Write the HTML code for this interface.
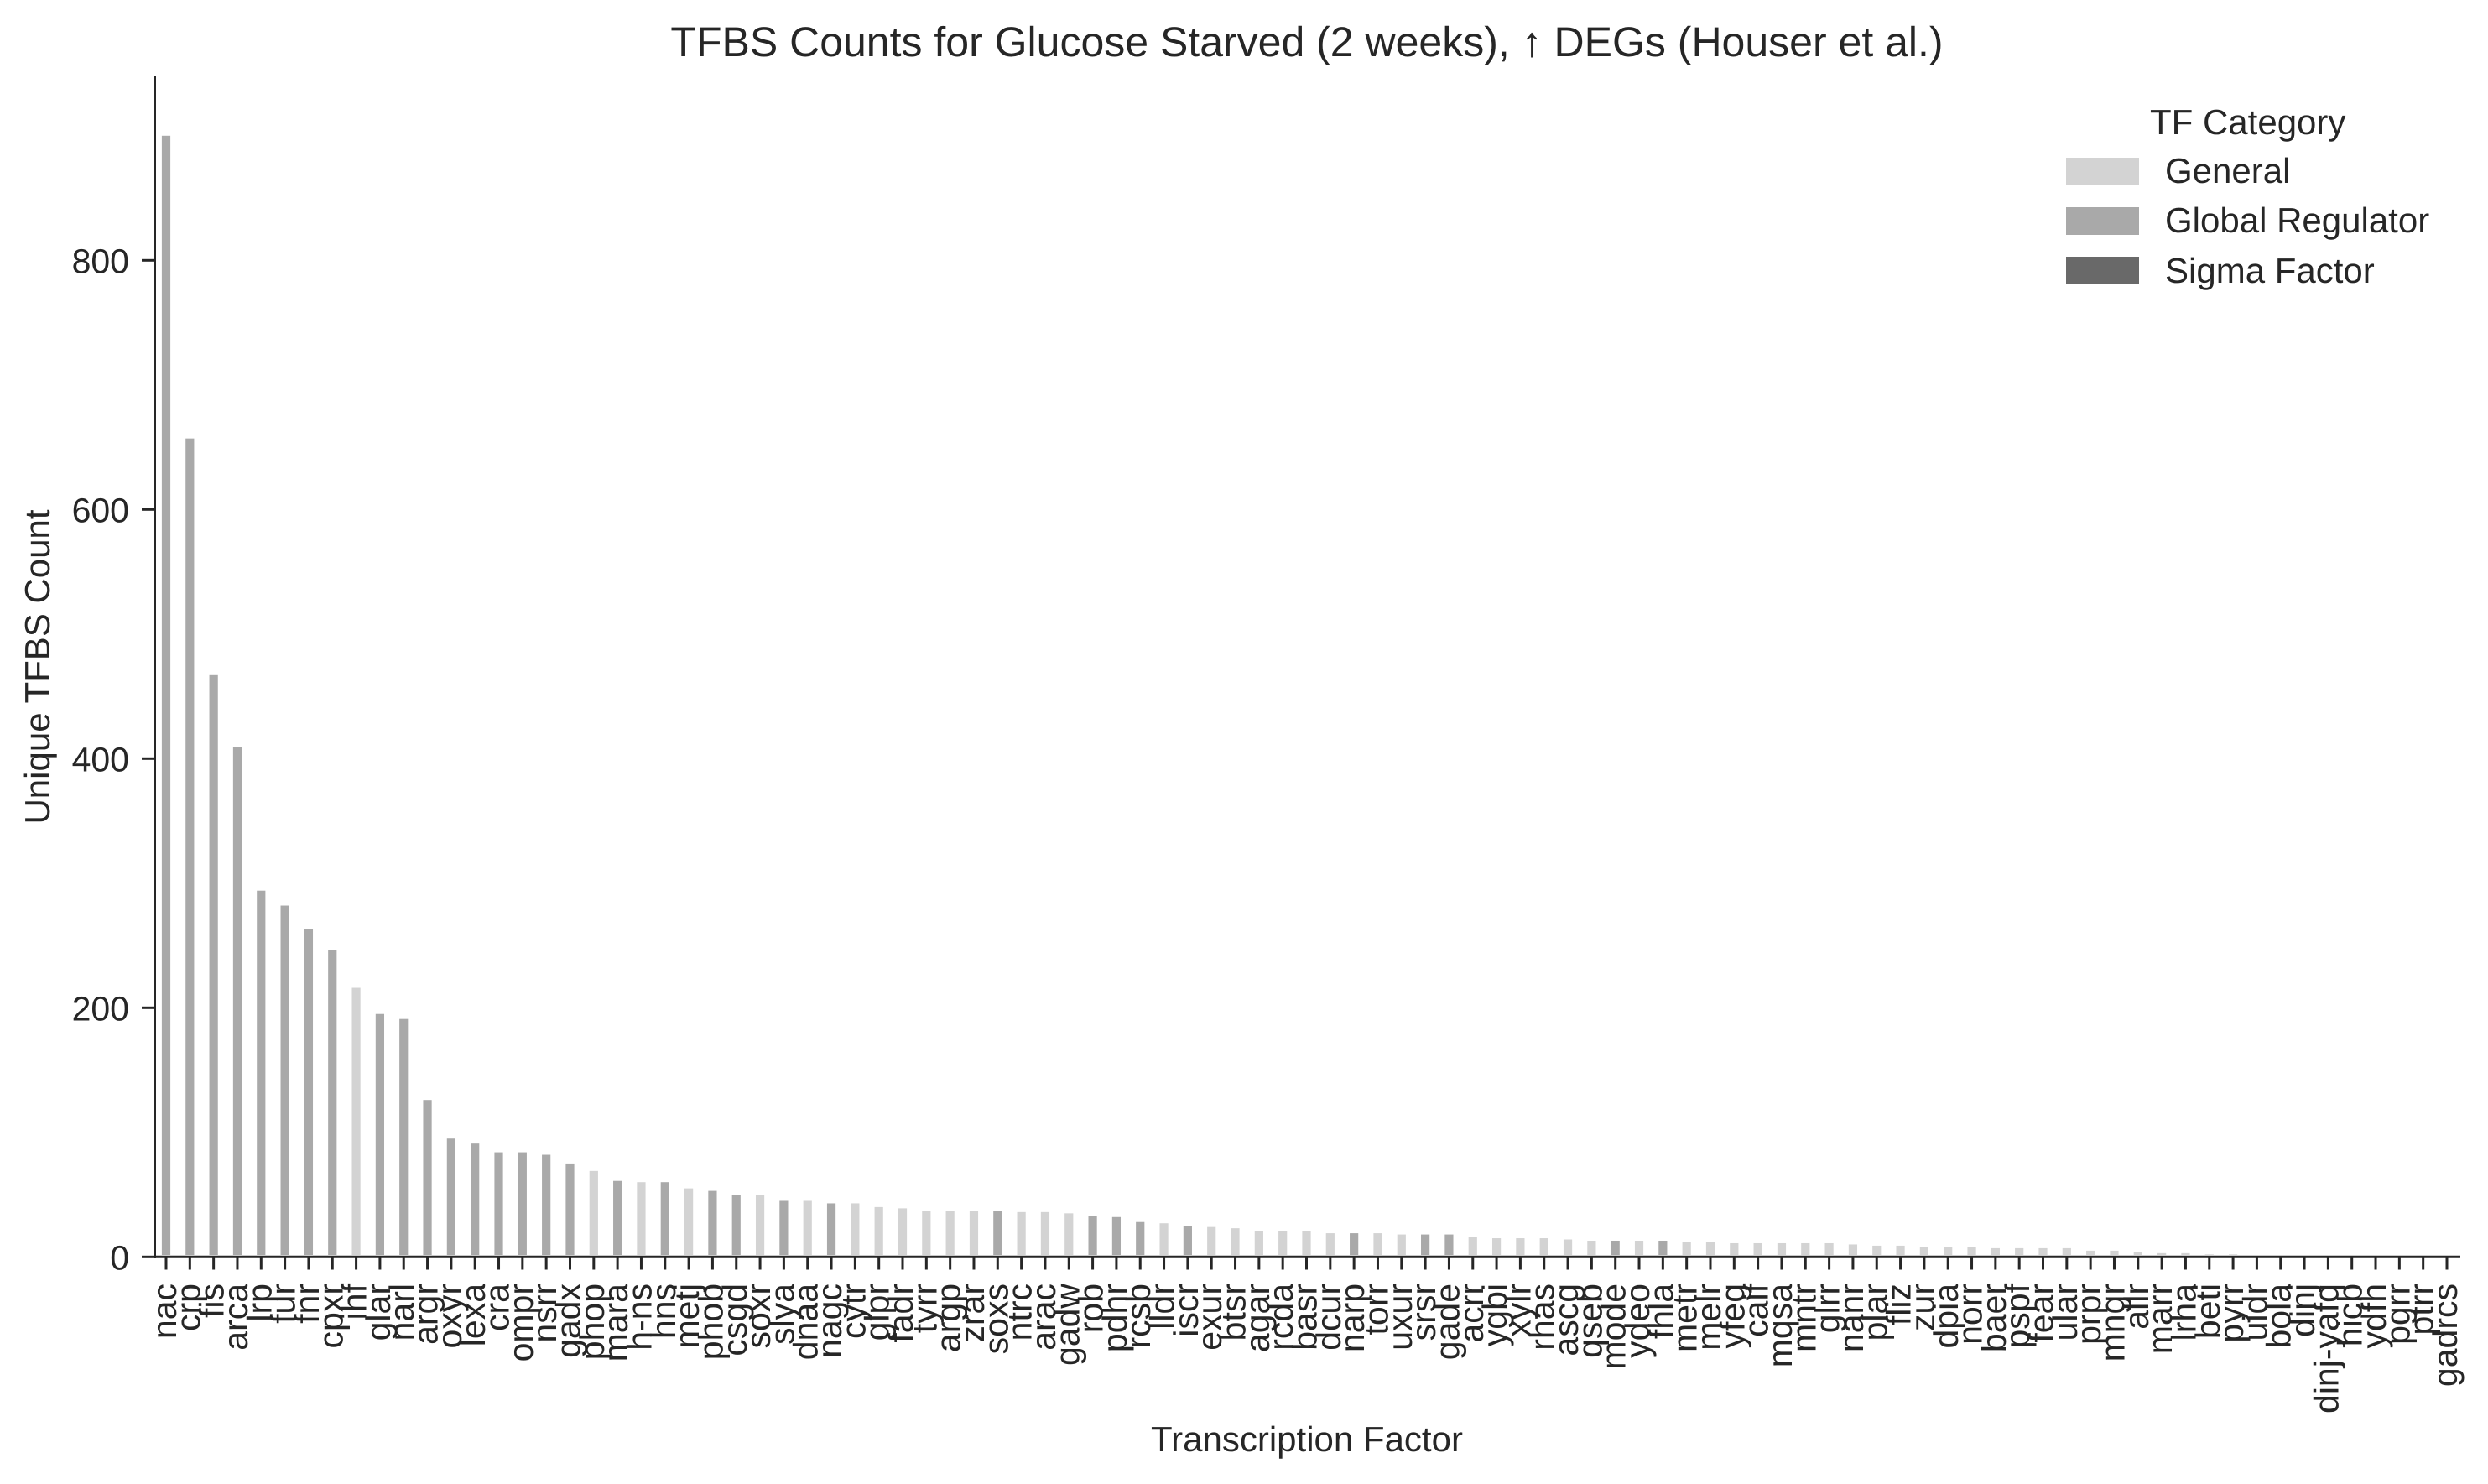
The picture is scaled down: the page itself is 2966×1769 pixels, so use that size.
<!DOCTYPE html>
<html lang="en">
<head>
<meta charset="utf-8">
<title>TFBS Counts for Glucose Starved (2 weeks)</title>
<style>
  html, body { margin: 0; padding: 0; background: #ffffff; }
  svg { display: block; text-rendering: geometricPrecision; }
  text { font-family: "Liberation Sans", "DejaVu Sans", sans-serif; fill: #262626; }
</style>
</head>
<body>
<svg id="chart" xmlns="http://www.w3.org/2000/svg" width="2966" height="1769" viewBox="0 0 2966 1769">
  <rect x="0" y="0" width="2966" height="1769" fill="#ffffff"/>
  <text x="1558" y="67" font-size="50" text-anchor="middle">TFBS Counts for Glucose Starved (2 weeks), ↑ DEGs (Houser et al.)</text>
  <g id="bars"></g>
  <line x1="184.5" y1="91" x2="184.5" y2="1500" stroke="#262626" stroke-width="3"/>
  <line x1="183" y1="1498.3" x2="2933" y2="1498.3" stroke="#262626" stroke-width="3"/>
  <g id="y-axis"></g>
  <g id="x-axis"></g>
  <text transform="translate(59,795) rotate(-90)" font-size="42" text-anchor="middle">Unique TFBS Count</text>
  <text x="1558" y="1730" font-size="42" text-anchor="middle">Transcription Factor</text>
  <g>
    <text x="2563" y="160" font-size="42">TF Category</text>
    <g>
      <rect x="2463" y="188" width="87" height="33" fill="#d3d3d3"/>
      <text x="2581" y="218" font-size="42">General</text>
    </g>
    <g>
      <rect x="2463" y="247" width="87" height="33" fill="#a9a9a9"/>
      <text x="2581" y="277" font-size="42">Global Regulator</text>
    </g>
    <g>
      <rect x="2463" y="306" width="87" height="33" fill="#696969"/>
      <text x="2581" y="337" font-size="42">Sigma Factor</text>
    </g>
  </g>
</svg>
<script>
const categories = ["nac","crp","fis","arca","lrp","fur","fnr","cpxr","ihf","glar","narl","argr","oxyr","lexa","cra","ompr","nsrr","gadx","phop","mara","h-ns","hns","metj","phob","csgd","soxr","slya","dnaa","nagc","cytr","glpr","fadr","tyrr","argp","zrar","soxs","ntrc","arac","gadw","rob","pdhr","rcsb","lldr","iscr","exur","btsr","agar","rcda","basr","dcur","narp","torr","uxur","srsr","gade","acrr","ygbi","xylr","rhas","ascg","qseb","mode","ydeo","fhla","metr","melr","yfeg","caif","mqsa","mntr","glrr","nanr","plar","fliz","zur","dpia","norr","baer","pspf","fear","ular","prpr","mngr","allr","marr","lrha","beti","pyrr","uidr","bola","dinj","dinj-yafq","hicb","ydfh","pgrr","ptrr","gadrcs"];
const values = [900,657,467,409,294,282,263,246,216,195,191,126,95,91,84,84,82,75,69,61,60,60,55,53,50,50,45,45,43,43,40,39,37,37,37,37,36,36,35,33,32,28,27,25,24,23,21,21,21,19,19,19,18,18,18,16,15,15,15,14,13,13,13,13,12,12,11,11,11,11,11,10,9,9,8,8,8,7,7,7,7,5,5,4,3,3,2,2,1,1,1,1,1,1,1,1,1];
const globalRegulators = ["nac","crp","fis","arca","lrp","fur","fnr","cpxr","glar","narl","argr","oxyr","lexa","cra","ompr","nsrr","gadx","mara","hns","phob","csgd","slya","nagc","soxs","rob","pdhr","rcsb","iscr","narp","srsr","gade","mode","fhla"];
const yTickLabels = [0,200,400,600,800];

const SVG_NS = "http://www.w3.org/2000/svg";
const COLOR_GENERAL = "#d3d3d3";
const COLOR_GLOBAL = "#a9a9a9";
const X_FIRST = 198;
const X_LAST = 2917;
const Y_ZERO = 1498.3;
const Y_PER_UNIT = 1.485;
const BAR_WIDTH = 10.2;
const BAR_FLOOR = 1496;

function xScale(index) {
  return X_FIRST + index * (X_LAST - X_FIRST) / (categories.length - 1);
}
function yScale(value) {
  return Y_ZERO - value * Y_PER_UNIT;
}
function make(tag, attrs, parent) {
  const el = document.createElementNS(SVG_NS, tag);
  Object.keys(attrs).forEach(function (k) { el.setAttribute(k, attrs[k]); });
  parent.appendChild(el);
  return el;
}

const barsGroup = document.getElementById("bars");
const xAxisGroup = document.getElementById("x-axis");
const yAxisGroup = document.getElementById("y-axis");

categories.forEach(function (name, i) {
  const cx = xScale(i);
  const top = yScale(values[i]);
  const fill = globalRegulators.indexOf(name) >= 0 ? COLOR_GLOBAL : COLOR_GENERAL;
  const bar = make("rect", {x: cx - BAR_WIDTH / 2, y: top, width: BAR_WIDTH, height: Math.max(0, BAR_FLOOR - top), fill: fill}, barsGroup);
  
  

  const tick = make("line", {x1: cx, y1: Y_ZERO, x2: cx, y2: 1513.5, stroke: "#262626", "stroke-width": 3}, xAxisGroup);
  
  

  const label = make("text", {transform: "translate(" + (cx + 12) + ",1530) rotate(-90)", "font-size": 41, "text-anchor": "end"}, xAxisGroup);
  label.textContent = name;
  
  
});

yTickLabels.forEach(function (v) {
  const y = yScale(v);
  const tick = make("line", {x1: 169, y1: y, x2: 184, y2: y, stroke: "#262626", "stroke-width": 3}, yAxisGroup);
  
  

  const label = make("text", {x: 154, y: y + 15, "font-size": 41, "text-anchor": "end"}, yAxisGroup);
  label.textContent = String(v);
  
  
});
</script>
</body>
</html>
